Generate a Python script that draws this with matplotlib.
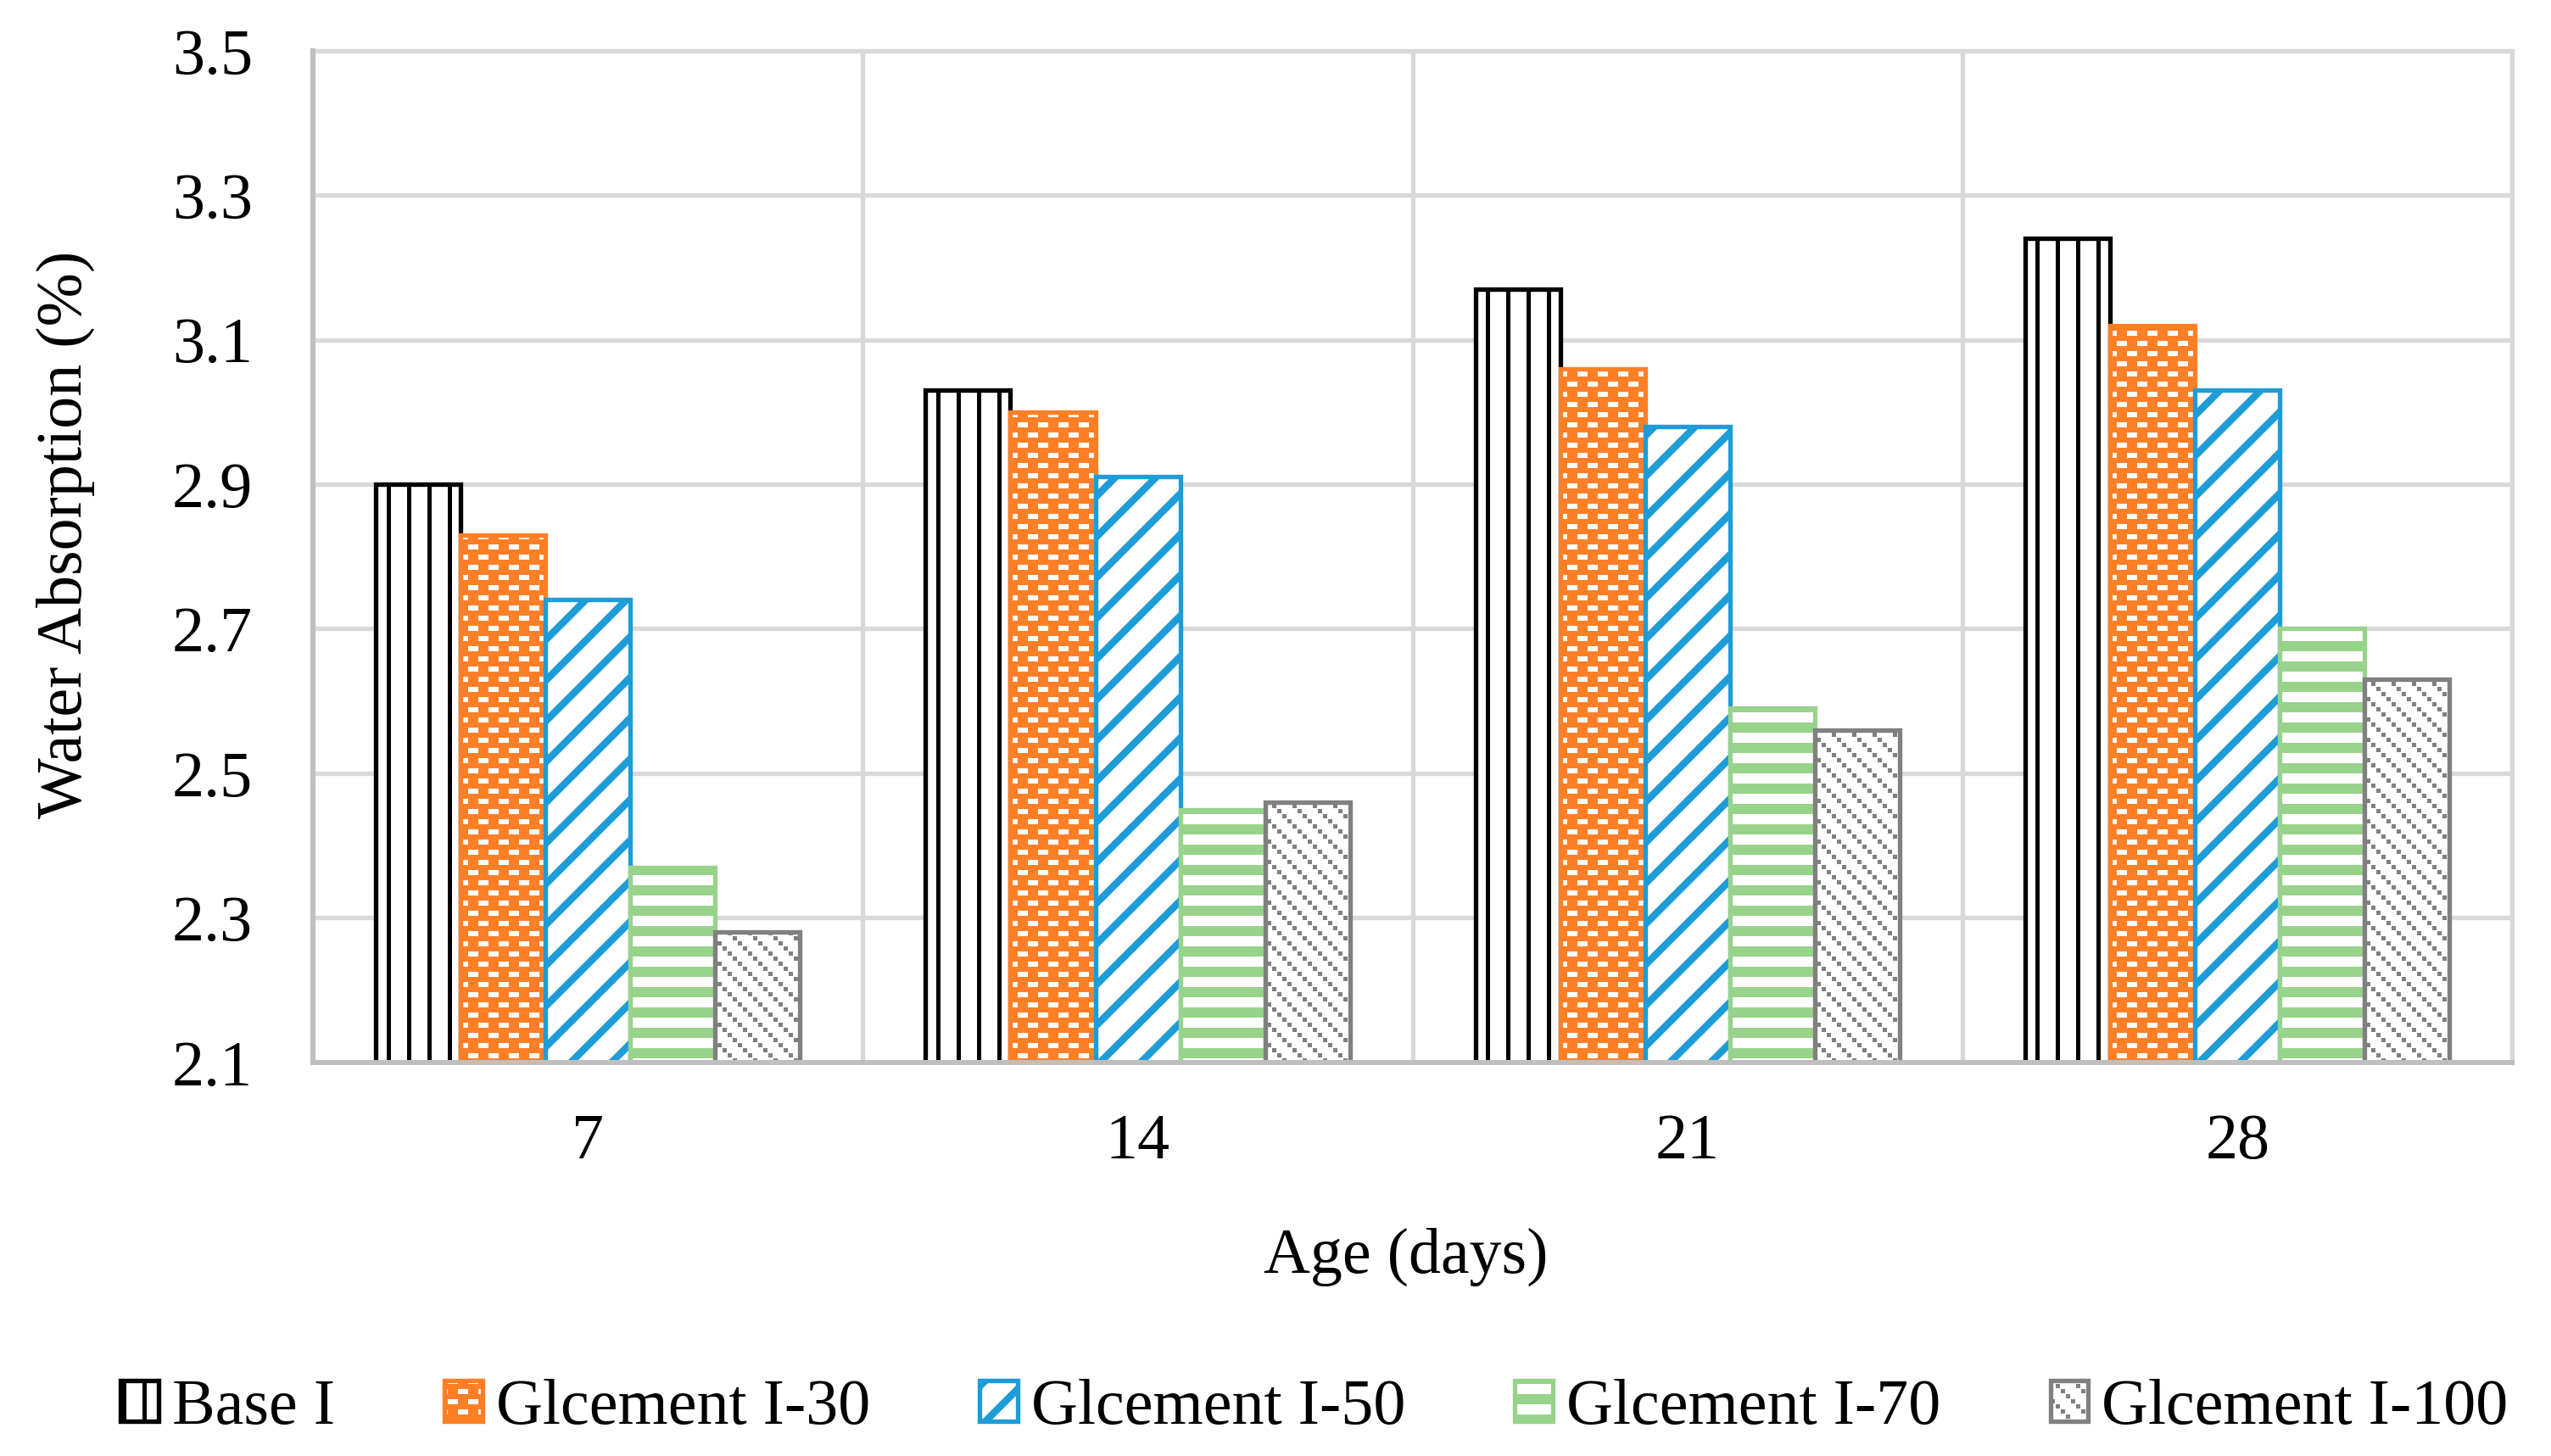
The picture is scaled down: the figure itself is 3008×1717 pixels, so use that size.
import numpy as np
import matplotlib
matplotlib.use("Agg")
import matplotlib.pyplot as plt
import matplotlib.hatch as mhatch
from matplotlib.path import Path

# ---------------- data ----------------
ages = ["7", "14", "21", "28"]
series_names = ["Base I", "Glcement I-30", "Glcement I-50", "Glcement I-70", "Glcement I-100"]
base_i = [2.90, 3.03, 3.17, 3.24]
glc_30 = [2.83, 3.00, 3.06, 3.12]
glc_50 = [2.74, 2.91, 2.98, 3.03]
glc_70 = [2.37, 2.45, 2.59, 2.70]
glc_100 = [2.28, 2.46, 2.56, 2.63]
y_ticks = [2.1, 2.3, 2.5, 2.7, 2.9, 3.1, 3.3, 3.5]
x_label = "Age (days)"
y_label = "Water Absorption (%)"

# ---------------- style ----------------
DPI = 192
FS = 28.5
FONT = "Liberation Serif"
plt.rcParams["font.family"] = [FONT, "DejaVu Serif"]
plt.rcParams["hatch.linewidth"] = 0.0

# ---------------- custom hatch patterns (one hatch cell = 1 inch = DPI px) ----------------
C = float(DPI)


def _rect(x0, y0, x1, y1):
    return [(x0, y0), (x1, y0), (x1, y1), (x0, y1)]


def _vlines():
    return [_rect(24 * k, -2, 24 * k + 5, C + 2) for k in range(8)]


def _bricks():  # orange everywhere except small white dashes (brick layout)
    polys = []
    for r in range(16):
        y = 12 * r
        polys.append(_rect(-2, y + 6, C + 2, y + 12))
        off = 12 if r % 2 == 0 else 0
        for k in range(-1, 9):
            x = 24 * k + off
            polys.append(_rect(x, y, x + 12, y + 6))
    return polys


def _diag():
    polys = []
    for c in range(-240, 241, 48):
        polys.append([(c, 0), (c + 12, 0), (c + 12 + C, C), (c + C, C)])
    return polys


def _hlines():
    return [_rect(-2, 24 * k, C + 2, 24 * k + 12) for k in range(8)]


def _dots():
    polys = []
    for j in range(-9, 10):
        for i in range(33):
            x = 24 * j + 6 * i
            y = C - 6 * i
            polys.append(_rect(x, y - 5, x + 5, y))
    return polys


HATCH_POLYS = {
    "|": _vlines(),
    "*": _bricks(),
    "/": _diag(),
    "-": _hlines(),
    "\\": _dots(),
}
HATCH_POLYS = {k: [np.asarray(p, float) / C for p in v] for k, v in HATCH_POLYS.items()}
_orig_get_path = mhatch.get_path


def _custom_get_path(hatchpattern, density=6):
    polys = HATCH_POLYS.get(hatchpattern)
    if not polys:
        return _orig_get_path(hatchpattern, density)
    n = sum(len(p) + 1 for p in polys)
    verts = np.empty((n, 2))
    codes = np.empty(n, Path.code_type)
    i = 0
    for p in polys:
        m = len(p)
        verts[i:i + m] = p
        verts[i + m] = p[0]
        codes[i] = Path.MOVETO
        codes[i + 1:i + m] = Path.LINETO
        codes[i + m] = Path.CLOSEPOLY
        i += m + 1
    return Path(verts, codes)


mhatch.get_path = _custom_get_path

# ---------------- figure ----------------
W, H = 3008, 1717
fig = plt.figure(figsize=((W + 0.4) / DPI, (H + 0.4) / DPI), dpi=DPI)
ax = fig.add_axes([369 / W, 1 - 1253 / H, (2962 - 369) / W, (1253 - 60) / H])

series = [base_i, glc_30, glc_50, glc_70, glc_100]
edge_colors = ["#000000", "#FF7F27", "#1E9CD8", "#98D38B", "#808080"]
hatches = ["|", "*", "/", "-", "\\"]

x = np.arange(len(ages))
bw = 0.1543
handles = []
for i, (vals, name, ec, h) in enumerate(zip(series, series_names, edge_colors, hatches)):
    bars = ax.bar(x + (i - 2) * bw, vals, width=bw, facecolor="white", edgecolor=ec,
                  hatch=h, linewidth=2.0, label=name, zorder=2)
    for b in bars:
        b.set_joinstyle("miter")
    handles.append(bars)

ax.set_xlim(-0.5, len(ages) - 0.5)
ax.set_ylim(y_ticks[0], y_ticks[-1])
ax.set_yticks(y_ticks)
ax.set_yticklabels([f"{v:.1f}" for v in y_ticks])
ax.set_xticks(x)
ax.set_xticklabels(ages)
ax.set_xticks(np.arange(len(ages) + 1) - 0.5, minor=True)

ax.set_axisbelow(True)
ax.yaxis.grid(True, which="major", color="#D9D9D9", linewidth=2.0)
ax.xaxis.grid(True, which="minor", color="#D9D9D9", linewidth=2.0)
ax.xaxis.grid(False, which="major")

for s in ["top", "right"]:
    ax.spines[s].set_color("#D9D9D9")
    ax.spines[s].set_linewidth(2.0)
for s in ["left", "bottom"]:
    ax.spines[s].set_color("#BFBFBF")
    ax.spines[s].set_linewidth(2.25)
    ax.spines[s].set_zorder(3)

ax.tick_params(axis="both", which="both", length=0, labelsize=FS)
ax.tick_params(axis="y", pad=26.6)
ax.tick_params(axis="x", pad=22.5)

fig.text(1658 / W, 1 - 1500 / H, x_label, ha="center", va="baseline", fontsize=FS)
fig.text(77 / W, 1 - 630 / H, y_label, ha="center", va="center", rotation=90, fontsize=FS)

fig.legend(handles, series_names, ncol=5, loc="center", bbox_to_anchor=(1549.5 / W, 1 - 1660 / H),
           frameon=False, fontsize=FS, handlelength=0.59, handleheight=0.59,
           handletextpad=0.21, columnspacing=1.7, borderpad=0, borderaxespad=0)

fig.savefig("out.png", dpi=DPI, facecolor="white")
